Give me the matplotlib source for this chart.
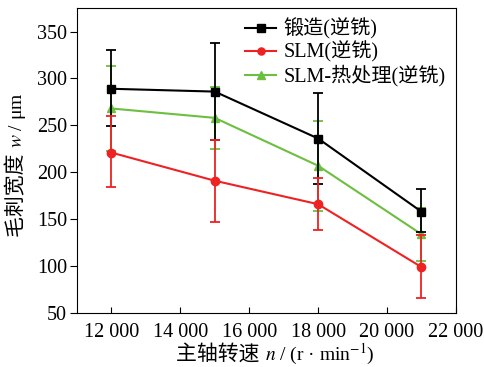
import matplotlib.pyplot as plt
from matplotlib.ticker import FuncFormatter

plt.rcParams['font.family'] = ['Liberation Serif', 'Noto Sans CJK SC']
plt.rcParams['mathtext.fontset'] = 'stix'

# spindle speed (r/min)
speed = [12000, 15000, 18000, 21000]

# burr width (um) with error bar limits
forged = [289, 286, 236, 158]
forged_hi = [330, 338, 284, 182]
forged_lo = [249, 234, 188, 136]

slm = [221, 191, 166, 99]
slm_hi = [260, 234, 194, 133]
slm_lo = [184, 147, 138, 66]

slm_ht = [268, 258, 207, 134]
slm_ht_hi = [313, 291, 255, 162]
slm_ht_lo = [223, 225, 159, 106]

labels = ['锻造(逆铣)', 'SLM(逆铣)', 'SLM-热处理(逆铣)']

fig = plt.figure(figsize=(4.84, 3.67), dpi=100)
ax = fig.add_axes([0.159, 0.147, 0.783, 0.831])

series = [
    (forged, forged_lo, forged_hi, 'black', 's', labels[0], 3),
    (slm, slm_lo, slm_hi, '#ee2222', 'o', labels[1], 4),
    (slm_ht, slm_ht_lo, slm_ht_hi, '#6cbf3f', '^', labels[2], 2),
]
handles = []
for y, lo, hi, c, m, lab, z in series:
    err = [[v - l for v, l in zip(y, lo)], [h - v for v, h in zip(y, hi)]]
    cont = ax.errorbar(speed, y, yerr=err, color=c, marker=m, markersize=6,
                       linewidth=1.5, elinewidth=1.3, capsize=3.5, capthick=1.3,
                       label=lab, zorder=z)
    handles.append(cont.lines[0])  # legend: line + marker only

ax.set_xlim(11000, 22000)
ax.set_ylim(50, 375)
ax.set_xticks([12000, 14000, 16000, 18000, 20000, 22000])
ax.set_yticks([50, 100, 150, 200, 250, 300, 350])
ax.xaxis.set_major_formatter(FuncFormatter(lambda v, p: f'{int(v):,}'.replace(',', ' ')))
ax.tick_params(axis='x', direction='in', labelsize=14.5, length=4, pad=7)
ax.tick_params(axis='y', direction='out', labelsize=14.5, length=5, pad=2)

# axis labels: CJK part and math part drawn as two texts
ax.text(0.495, -0.135, '主轴转速 ', transform=ax.transAxes, fontsize=15,
        ha='right', va='center')
ax.text(0.495, -0.135, '$n$ / (r · min$^{-1}$)', transform=ax.transAxes,
        fontsize=14, ha='left', va='center')
ax.text(-0.156, 0.54, '毛刺宽度 ', transform=ax.transAxes, fontsize=15,
        rotation=90, ha='center', va='top')
ax.text(-0.156, 0.54, '$w$ / μm', transform=ax.transAxes, fontsize=14,
        rotation=90, ha='center', va='bottom')

ax.legend(handles, labels, loc='upper right', frameon=False, fontsize=14.5,
          handlelength=1.5, handletextpad=0.4, labelspacing=0.1,
          borderaxespad=0.1, markerscale=0.85)

fig.savefig('out.png', dpi=100)
